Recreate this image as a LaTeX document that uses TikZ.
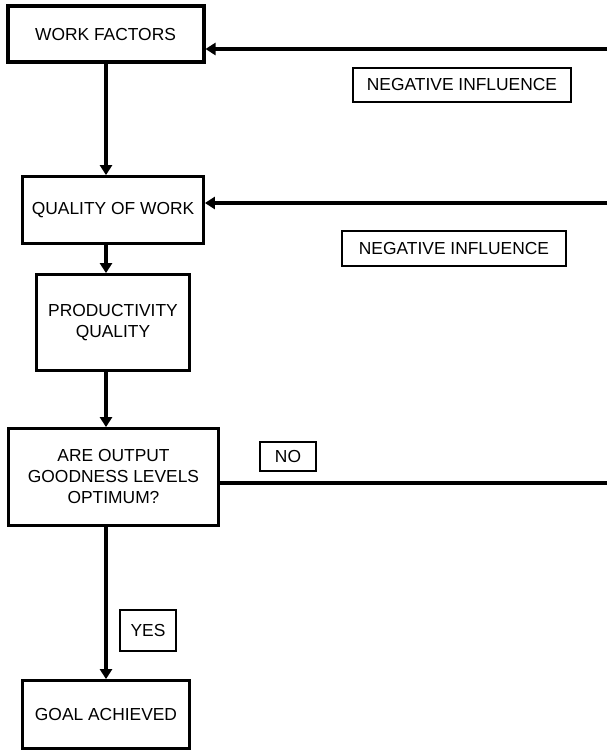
\documentclass[tikz,border=0pt]{standalone}
\usepackage{fontspec}
\setmainfont{Liberation Sans}
\usetikzlibrary{arrows.meta, positioning}

\begin{document}
\begin{tikzpicture}[x=1pt, y=-1pt,
    every node/.style={draw, rectangle, line width=2.8pt, inner sep=0pt, align=center,
        font=\fontsize{17.4}{21}\selectfont},
    flow/.style={line width=3.2pt, -{Triangle[length=10pt, width=12pt]}},
    plain/.style={line width=3.2pt}]
    \useasboundingbox (0,0) rectangle (607,751);
    % main column
    \node[line width=4pt, minimum width=196pt, minimum height=56pt] (wf) at (105.5,34.5) {WORK FACTORS};
    \node[minimum width=181pt, minimum height=67pt] (qow) at (113,210) {QUALITY OF WORK};
    \node[minimum width=153pt, minimum height=96pt] (prod) at (113,322.5) {PRODUCTIVITY\\QUALITY};
    \node[minimum width=210pt, minimum height=97pt] (ask) at (113.5,477) {ARE OUTPUT\\GOODNESS LEVELS\\OPTIMUM?};
    \node[minimum width=167pt, minimum height=68pt] (goal) at (106,714.5) {GOAL ACHIEVED};
    % tags
    \node[minimum width=218pt, minimum height=34pt] (neg1) at (462,85) {NEGATIVE INFLUENCE};
    \node[minimum width=224pt, minimum height=35pt] (neg2) at (454,248.5) {NEGATIVE INFLUENCE};
    \node[minimum width=56pt, minimum height=29pt] (no) at (288,456.5) {NO};
    \node[minimum width=56pt, minimum height=41pt] (yes) at (148,630.5) {YES};
    % loose ends at the right margin
    \coordinate (in1) at (607,49);
    \coordinate (in2) at (607,203);
    \coordinate (out) at (607,483);
    % connectors
    \draw[flow] (wf.south -| 106,0) -- (qow.north -| 106,0);
    \draw[flow] (qow.south -| 106,0) -- (prod.north -| 106,0);
    \draw[flow] (prod.south -| 106,0) -- (ask.north -| 106,0);
    \draw[flow] (ask.south -| 106,0) -- (goal.north -| 106,0);
    \draw[flow] (in1) -- (in1 -| wf.east);
    \draw[flow] (in2) -- (in2 -| qow.east);
    \draw[plain] (out -| ask.east) -- (out);
\end{tikzpicture}
\end{document}
